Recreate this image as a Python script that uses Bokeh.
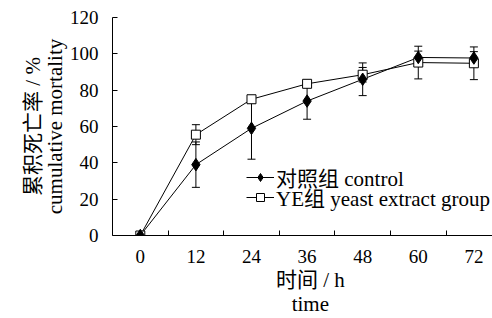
import math
from bokeh.plotting import figure
from bokeh.models import (Range1d, FixedTicker, Whisker, ColumnDataSource, Legend,
                          LegendItem, TeeHead)
from bokeh.embed import file_html
from bokeh.resources import INLINE

# ---- data ----
times = ["0", "12", "24", "36", "48", "60", "72"]
control = [0, 39, 59, 74, 86, 98, 97.7]
control_err = [0, 12.5, 17, 10, 9, 3.5, 3.5]
ye = [0, 55.5, 75, 83.5, 88.5, 95.2, 94.8]
ye_err = [0, 5.5, 2, 2, 4, 9, 9]
y_ticks = [0, 20, 40, 60, 80, 100, 120]
legend_labels = ["对照组 control", "YE组 yeast extract group"]
y_title = "累积死亡率 / %\ncumulative mortality"
x_title = "\u00a0\u00a0\u00a0时间 / h\n\u00a0\u00a0\u00a0time"

FONT = "'Liberation Serif', 'Noto Sans CJK SC'"
xs = list(range(len(times)))

p = figure(width=492, height=318, output_backend="svg", toolbar_location=None,
           x_range=Range1d(-0.5, 6.335), y_range=Range1d(0, 120),
           min_border_left=112, min_border_right=0, min_border_top=17,
           min_border_bottom=82)
p.outline_line_color = None
p.xgrid.visible = False
p.ygrid.visible = False
p.background_fill_color = "white"
p.border_fill_color = "white"

# x axis: labels at category centers, tick marks between categories
xa = p.xaxis[0]
xa.ticker = FixedTicker(ticks=xs, minor_ticks=[i + 0.5 for i in xs[:-1]])
xa.major_label_overrides = {i: t for i, t in enumerate(times)}
xa.major_tick_in = 0
xa.major_tick_out = 0
xa.minor_tick_in = 5
xa.minor_tick_out = 0
xa.minor_tick_line_color = "black"
xa.axis_line_color = "black"
xa.major_label_text_font = FONT
xa.major_label_text_font_size = "19px"
xa.major_label_text_color = "black"
xa.major_label_standoff = 14
xa.axis_label = x_title
xa.axis_label_text_font = FONT
xa.axis_label_text_font_size = "21px"
xa.axis_label_text_font_style = "normal"
xa.axis_label_text_color = "black"
xa.axis_label_text_line_height = 1.0
xa.axis_label_standoff = 2

ya = p.yaxis[0]
ya.ticker = FixedTicker(ticks=y_ticks)
ya.major_tick_in = 5
ya.major_tick_out = 0
ya.minor_tick_line_color = None
ya.major_tick_line_color = "black"
ya.axis_line_color = "black"
ya.major_label_text_font = FONT
ya.major_label_text_font_size = "19px"
ya.major_label_text_color = "black"
ya.major_label_standoff = 14
ya.axis_label = y_title
ya.axis_label_text_font = FONT
ya.axis_label_text_font_size = "21px"
ya.axis_label_text_font_style = "normal"
ya.axis_label_text_color = "black"
ya.axis_label_text_line_height = 0.92
ya.axis_label_standoff = 0

# lines
l_ctrl = p.line(xs, control, line_color="black", line_width=1)
l_ye = p.line(xs, ye, line_color="black", line_width=1)

# error bars
def whisk(vals, errs):
    idx = [i for i in xs if errs[i] > 0]
    src = ColumnDataSource(dict(x=[xs[i] for i in idx],
                                upper=[vals[i] + errs[i] for i in idx],
                                lower=[vals[i] - errs[i] for i in idx]))
    w = Whisker(base="x", upper="upper", lower="lower", source=src,
                line_color="black", line_width=1,
                upper_head=TeeHead(size=8, line_color="black", line_width=1),
                lower_head=TeeHead(size=8, line_color="black", line_width=1))
    p.add_layout(w)

whisk(ye, ye_err)
whisk(control, control_err)

# markers
s_ye = p.scatter(xs, ye, marker="square", size=9, fill_color="white",
                 line_color="black", line_width=1)
s_ctrl = p.scatter(xs, control, marker="diamond", size=12.5,
                   fill_color="black", line_color="black")

common = dict(background_fill_alpha=0, border_line_color=None, padding=0, margin=0,
              spacing=0, glyph_width=28, glyph_height=20, label_height=20,
              label_standoff=2, label_text_font=FONT, label_text_font_size="21px",
              label_text_color="black")
leg1 = Legend(items=[LegendItem(label=legend_labels[0], renderers=[l_ctrl, s_ctrl])],
              location=(134, 43), **common)
leg2 = Legend(items=[LegendItem(label=legend_labels[1], renderers=[l_ye, s_ye])],
              location=(134, 23), **common)
p.add_layout(leg1)
p.add_layout(leg2)

open("out.html", "w").write(file_html(p, INLINE))
